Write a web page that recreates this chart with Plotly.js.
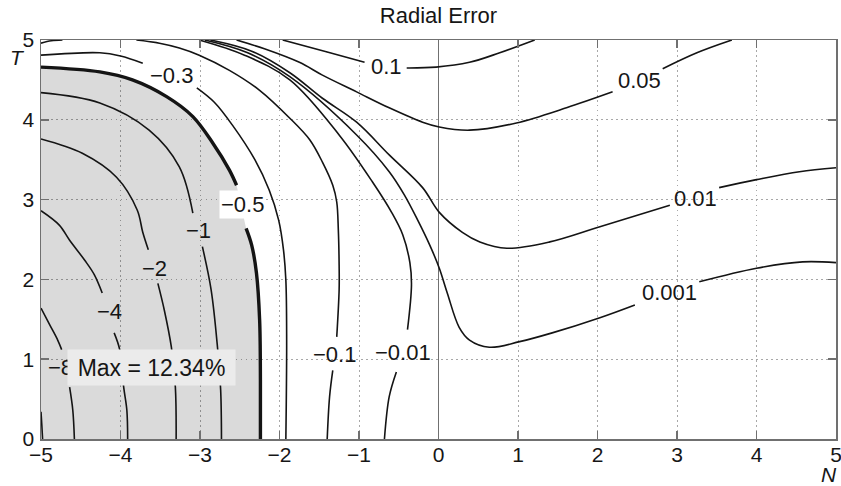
<!DOCTYPE html>
<html>
<head>
<meta charset="utf-8">
<script src="https://cdn.plot.ly/plotly-3.0.1.min.js"></script>
<style>html,body{margin:0;padding:0;background:#fff;}#plot{width:841px;height:486px;}</style>
</head>
<body>
<div id="plot"></div>
<script>
// ---- Axis ticks ----
const xTickVals = [-5, -4, -3, -2, -1, 0, 1, 2, 3, 4, 5];
const yTickVals = [0, 1, 2, 3, 4, 5];

// ---- Contour pieces (N = x, T = y) ----
// level -8 (label mostly hidden by the Max box)
const m8UpperN = [-5.00, -4.89, -4.79, -4.74];
const m8UpperT = [1.64, 1.43, 1.24, 1.12];
const m8LowerN = [-4.64, -4.60, -4.58];
const m8LowerT = [0.65, 0.36, 0.00];
// small piece at bottom-left corner
const cornerLowN = [-5.00, -4.99, -4.98];
const cornerLowT = [0.34, 0.18, 0.00];
// level -4
const m4UpperN = [-5.00, -4.77, -4.64, -4.45, -4.33, -4.23];
const m4UpperT = [2.86, 2.68, 2.49, 2.24, 2.06, 1.83];
const m4LowerN = [-4.08, -4.01, -3.96, -3.92, -3.91];
const m4LowerT = [1.33, 1.12, 0.65, 0.36, 0.00];
// level -2
const m2UpperN = [-5.00, -4.48, -4.05, -3.79, -3.72, -3.65];
const m2UpperT = [3.76, 3.58, 3.28, 2.87, 2.59, 2.37];
const m2LowerN = [-3.53, -3.45, -3.36, -3.31, -3.30];
const m2LowerT = [1.95, 1.62, 1.15, 0.65, 0.00];
// level -1
const m1UpperN = [-5.00, -4.26, -3.64, -3.26, -3.09];
const m1UpperT = [4.34, 4.21, 3.87, 3.41, 2.83];
const m1LowerN = [-2.97, -2.86, -2.78, -2.74, -2.73];
const m1LowerT = [2.41, 1.87, 1.15, 0.61, 0.00];
// level -0.5 (thick, bounds the shaded region)
const m05UpperN = [-5.00, -4.26, -3.85, -3.42, -3.09, -2.84, -2.63, -2.54];
const m05UpperT = [4.66, 4.60, 4.50, 4.29, 4.04, 3.71, 3.37, 3.18];
const m05LowerN = [-2.42, -2.35, -2.29, -2.25, -2.24, -2.24];
const m05LowerT = [2.64, 2.43, 2.08, 1.49, 0.74, 0.00];
// level -0.3
const m03UpperN = [-5.00, -4.26, -4.00, -3.72];
const m03UpperT = [4.81, 4.84, 4.80, 4.71];
const m03LowerN = [-3.04, -2.82, -2.59, -2.31, -2.13, -2.01, -1.95, -1.92, -1.91, -1.92];
const m03LowerT = [4.40, 4.22, 3.93, 3.50, 3.12, 2.74, 2.37, 1.99, 1.24, 0.00];
// small piece at top-left corner
const cornerTopN = [-5.00, -4.87, -4.73];
const cornerTopT = [4.96, 4.99, 5.00];
// level -0.1
const m01UpperN = [-3.80, -3.51, -3.26, -3.01, -2.63, -2.25, -1.87, -1.62, -1.46, -1.33, -1.28, -1.26, -1.25, -1.25, -1.28];
const m01UpperT = [5.00, 4.96, 4.90, 4.81, 4.62, 4.37, 4.02, 3.75, 3.47, 3.18, 2.97, 2.62, 2.18, 1.87, 1.28];
const m01LowerN = [-1.33, -1.37, -1.40];
const m01LowerT = [0.86, 0.53, 0.00];
// level -0.01
const m001UpperN = [-3.01, -2.44, -1.87, -1.25, -0.83, -0.59, -0.45, -0.36, -0.34, -0.39];
const m001UpperT = [5.00, 4.81, 4.50, 3.81, 3.22, 2.84, 2.56, 2.21, 1.93, 1.37];
const m001LowerN = [-0.53, -0.62, -0.68];
const m001LowerT = [0.84, 0.53, 0.00];
// level 0.001
const p0001LeftN = [-2.94, -2.40, -1.87, -1.03, -0.62, -0.43, -0.26, -0.11, 0.01, 0.11, 0.26, 0.39, 0.64, 1.02, 1.43, 2.03, 2.47];
const p0001LeftT = [5.00, 4.84, 4.54, 3.81, 3.35, 3.06, 2.74, 2.43, 2.14, 1.83, 1.40, 1.24, 1.15, 1.22, 1.33, 1.52, 1.68];
const p0001RightN = [3.28, 4.00, 4.58, 5.00];
const p0001RightT = [1.97, 2.14, 2.22, 2.21];
// level 0.01
const p001LeftN = [-2.87, -2.35, -1.87, -1.46, -1.03, -0.62, -0.20, 0.01, 0.30, 0.52, 0.86, 1.40, 2.03, 2.91];
const p001LeftT = [5.00, 4.86, 4.59, 4.27, 3.97, 3.56, 3.15, 2.84, 2.59, 2.47, 2.39, 2.47, 2.66, 2.93];
const p001RightN = [3.53, 4.00, 4.54, 5.00];
const p001RightT = [3.15, 3.25, 3.35, 3.40];
// level 0.05
const p005LeftN = [-2.54, -2.19, -1.75, -1.46, -1.03, -0.62, -0.20, 0.01, 0.39, 0.98, 1.61, 2.19];
const p005LeftT = [5.00, 4.89, 4.72, 4.56, 4.35, 4.15, 3.97, 3.91, 3.87, 3.96, 4.15, 4.35];
const p005RightN = [2.82, 3.25, 3.69];
const p005RightT = [4.64, 4.84, 5.00];
// level 0.1
const p01LeftN = [-1.96, -1.40, -0.93];
const p01LeftT = [5.00, 4.85, 4.72];
const p01RightN = [-0.40, -0.03, 0.39, 0.77, 1.21];
const p01RightT = [4.65, 4.66, 4.72, 4.84, 5.00];

// ---- Contour labels ----
const labelText = ["\u22128", "\u22124", "\u22122", "\u22121", "\u22120.5", "\u22120.3", "\u22120.1", "\u22120.01", "0.001", "0.01", "0.05", "0.1"];
const labelN = [-4.75, -4.14, -3.57, -3.02, -2.47, -3.36, -1.31, -0.45, 2.91, 3.23, 2.53, -0.65];
const labelT = [0.90, 1.60, 2.14, 2.61, 2.94, 4.55, 1.06, 1.09, 1.83, 3.02, 4.49, 4.67];

const maxText = "Max = 12.34%";
const maxN = -3.616;
const maxT = 0.896;

// ---- Build traces ----
const thin = [
  [m8UpperN, m8UpperT], [m8LowerN, m8LowerT], [cornerLowN, cornerLowT],
  [m4UpperN, m4UpperT], [m4LowerN, m4LowerT],
  [m2UpperN, m2UpperT], [m2LowerN, m2LowerT],
  [m1UpperN, m1UpperT], [m1LowerN, m1LowerT],
  [m03UpperN, m03UpperT], [m03LowerN, m03LowerT], [cornerTopN, cornerTopT],
  [m01UpperN, m01UpperT], [m01LowerN, m01LowerT],
  [m001UpperN, m001UpperT], [m001LowerN, m001LowerT],
  [p0001LeftN, p0001LeftT], [p0001RightN, p0001RightT],
  [p001LeftN, p001LeftT], [p001RightN, p001RightT],
  [p005LeftN, p005LeftT], [p005RightN, p005RightT],
  [p01LeftN, p01LeftT], [p01RightN, p01RightT]
];
const thick = [[m05UpperN, m05UpperT], [m05LowerN, m05LowerT]];

const traces = [];
// shaded region bounded by the -0.5 contour
traces.push({
  type: 'scatter', mode: 'lines',
  x: m05UpperN.concat(m05LowerN, [-5]),
  y: m05UpperT.concat(m05LowerT, [0]),
  fill: 'toself', fillcolor: 'rgba(0,0,0,0.145)',
  line: {width: 0}, hoverinfo: 'skip'
});
thin.forEach(p => traces.push({
  type: 'scatter', mode: 'lines', x: p[0], y: p[1],
  line: {color: '#141414', width: 1.6, shape: 'spline', smoothing: 1}, hoverinfo: 'skip'
}));
thick.forEach(p => traces.push({
  type: 'scatter', mode: 'lines', x: p[0], y: p[1],
  line: {color: '#141414', width: 3.4, shape: 'spline', smoothing: 1}, hoverinfo: 'skip'
}));

const fontFam = 'Liberation Sans, Arial, Helvetica, sans-serif';
const annotations = labelText.map((t, i) => ({
  x: labelN[i], y: labelT[i], xref: 'x', yref: 'y', text: t, showarrow: false,
  xanchor: 'center', yanchor: 'middle',
  font: {family: fontFam, size: 22, color: '#161616'},
  bgcolor: (t === '\u22120.5') ? '#ffffff' : 'rgba(0,0,0,0)', borderpad: 1
}));
annotations.push({
  xref: 'paper', yref: 'paper', x: -0.030, y: 0.955, xanchor: 'center', yanchor: 'middle',
  text: '<i>T</i>', showarrow: false,
  font: {family: fontFam, size: 21, color: '#161616'}
});
annotations.push({
  xref: 'paper', yref: 'paper', x: 0.991, y: -0.088, xanchor: 'center', yanchor: 'middle',
  text: '<i>N</i>', showarrow: false,
  font: {family: fontFam, size: 21, color: '#161616'}
});
annotations.push({
  x: maxN, y: maxT, xref: 'x', yref: 'y', text: maxText, showarrow: false,
  xanchor: 'center', yanchor: 'middle',
  font: {family: fontFam, size: 23, color: '#161616'},
  bgcolor: '#ebebeb', borderpad: 4, width: 159, height: 27
});

const axisCommon = {
  showline: true, linecolor: '#707070', linewidth: 1.5, mirror: 'allticks',
  ticks: 'inside', ticklen: 8, tickcolor: '#707070', tickwidth: 1.5,
  showgrid: true, gridcolor: '#a8a8a8', gridwidth: 1, griddash: '1.5px,3.5px',
  tickfont: {family: fontFam, size: 21, color: '#161616'},
  ticklabeloverflow: 'allow',
  fixedrange: true
};

const layout = {
  width: 841, height: 486,
  margin: {l: 41, r: 5, t: 40, b: 47, pad: 0},
  paper_bgcolor: '#ffffff', plot_bgcolor: '#ffffff',
  showlegend: false, hovermode: false,
  title: {text: 'Radial Error', x: 0.5, xref: 'paper', y: 0.969, yref: 'container', yanchor: 'middle',
          font: {family: fontFam, size: 22, color: '#161616'}},
  xaxis: Object.assign({}, axisCommon, {range: [-5, 5], tickvals: xTickVals, ticklabelstandoff: -4,
          zeroline: true, zerolinecolor: '#707070', zerolinewidth: 1.5}),
  yaxis: Object.assign({}, axisCommon, {range: [0, 5], tickvals: yTickVals, ticklabelstandoff: 1, zeroline: false}),
  annotations: annotations
};

Plotly.newPlot('plot', traces, layout, {staticPlot: true, displayModeBar: false});
</script>
</body>
</html>
